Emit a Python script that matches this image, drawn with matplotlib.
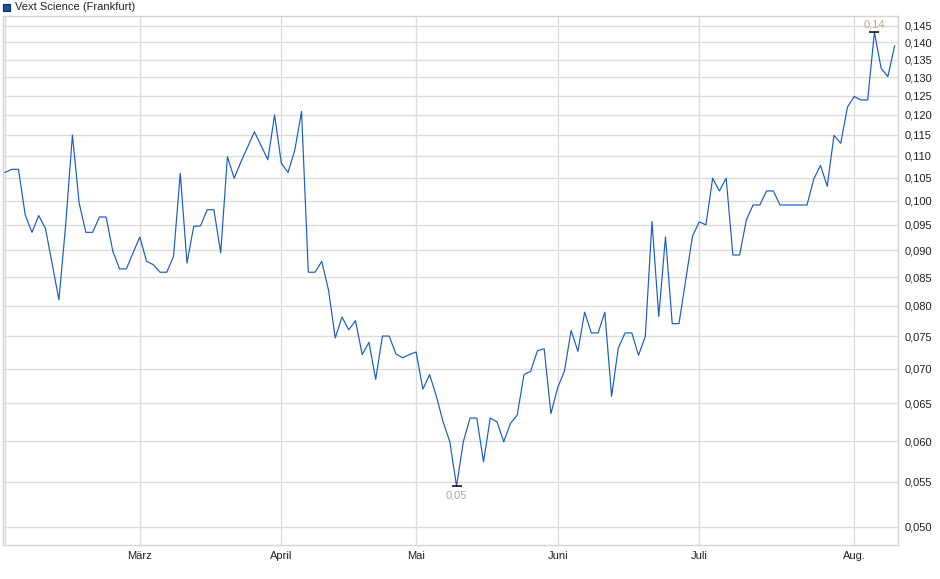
import numpy as np
import matplotlib
matplotlib.use('Agg')
import matplotlib.pyplot as plt
from matplotlib.ticker import FixedLocator, FixedFormatter, NullLocator

# daily closing prices (trading-day index)
prices = [
    0.1062, 0.1069, 0.1069, 0.0970, 0.0935, 0.0969, 0.0943, 0.0874, 0.0810, 0.0950,
    0.1150, 0.0995, 0.0935, 0.0935, 0.0966, 0.0966, 0.0898, 0.0865, 0.0865, 0.0895,
    0.0926, 0.0879, 0.0873, 0.0859, 0.0859, 0.0888, 0.1060, 0.0876, 0.0947, 0.0948,
    0.0981, 0.0981, 0.0895, 0.1098, 0.1049, 0.1086, 0.1121, 0.1158, 0.1124, 0.1091,
    0.1200, 0.1083, 0.1062, 0.1114, 0.1209, 0.0859, 0.0859, 0.0879, 0.0827, 0.0747,
    0.0781, 0.0760, 0.0775, 0.0721, 0.0740, 0.0684, 0.0750, 0.0750, 0.0722, 0.0716,
    0.0721, 0.0725, 0.0670, 0.0691, 0.0660, 0.0625, 0.0599, 0.0545, 0.0599, 0.0630,
    0.0630, 0.0574, 0.0630, 0.0625, 0.0599, 0.0623, 0.0634, 0.0691, 0.0696, 0.0727,
    0.0730, 0.0636, 0.0672, 0.0696, 0.0759, 0.0726, 0.0789, 0.0755, 0.0755, 0.0789,
    0.0660, 0.0731, 0.0755, 0.0755, 0.0720, 0.0749, 0.0957, 0.0782, 0.0926, 0.0770,
    0.0770, 0.0845, 0.0927, 0.0956, 0.0950, 0.1049, 0.1021, 0.1049, 0.0891, 0.0891,
    0.0960, 0.0991, 0.0991, 0.1021, 0.1021, 0.0991, 0.0991, 0.0991, 0.0991, 0.0991,
    0.1047, 0.1078, 0.1031, 0.1149, 0.1130, 0.1220, 0.1248, 0.1239, 0.1239, 0.1431,
    0.1325, 0.1302, 0.1390,
]

# first trading day of each month (index into prices)
month_pos = [0, 20, 41, 61, 82, 103, 126]
month_labels = ['', 'März', 'April', 'Mai', 'Juni', 'Juli', 'Aug.']

y_ticks = [0.050, 0.055, 0.060, 0.065, 0.070, 0.075, 0.080, 0.085, 0.090, 0.095,
           0.100, 0.105, 0.110, 0.115, 0.120, 0.125, 0.130, 0.135, 0.140, 0.145]

max_label = '0,14'
min_label = '0,05'

plt.rcParams['font.family'] = ['Liberation Sans', 'DejaVu Sans']

W, H = 940, 579
fig = plt.figure(figsize=(W / 100, H / 100), dpi=100)
ax = fig.add_axes([3 / W, 1 - 545 / H, (898 - 3) / W, (545 - 16) / H])

x = np.arange(len(prices))
ax.plot(x, prices, color='#185cc4', lw=0.85, zorder=3)

ax.set_yscale('log')
ax.set_ylim(0.0481, 0.1481)
ax.set_xlim(-0.3, len(prices) - 0.5)

ax.yaxis.set_major_locator(FixedLocator(y_ticks))
ax.yaxis.set_major_formatter(FixedFormatter([f'{v:.3f}'.replace('.', ',') for v in y_ticks]))
ax.yaxis.set_minor_locator(NullLocator())
ax.yaxis.tick_right()

ax.set_xticks(month_pos)
ax.set_xticklabels(month_labels)

ax.tick_params(axis='y', length=0, pad=5, labelsize=8, labelcolor='#222222')
ax.tick_params(axis='x', length=0, pad=4, labelsize=8, labelcolor='#222222')

ax.grid(True, color='#dcdcdc', lw=1.0, zorder=0)
for s in ax.spines.values():
    s.set_color('#d4d4d4')
    s.set_linewidth(1.0)

# high / low markers
imax = int(np.argmax(prices))
imin = int(np.argmin(prices))
ax.plot([imax], [prices[imax]], marker='_', ms=6.5, mew=1.1, color='black', zorder=4)
ax.plot([imin], [prices[imin]], marker='_', ms=6.5, mew=1.1, color='black', zorder=4)
ax.annotate(max_label, (imax, prices[imax]), xytext=(0, 2), textcoords='offset points',
            ha='center', va='bottom', fontsize=8, color='#bba88f')
ax.annotate(min_label, (imin, prices[imin]), xytext=(0, -3), textcoords='offset points',
            ha='center', va='top', fontsize=8, color='#a2a6ae')

# legend box at top left
fig.patches.append(plt.Rectangle((3 / W, 1 - 11 / H), 7 / W, 7 / H, transform=fig.transFigure,
                                 facecolor='#1a4fb0', edgecolor='#1a2a50', lw=0.8))
fig.text(15 / W, 1 - 6.5 / H, 'Vext Science (Frankfurt)', fontsize=8, color='#222222', va='center')

fig.savefig('out.png', dpi=100)
